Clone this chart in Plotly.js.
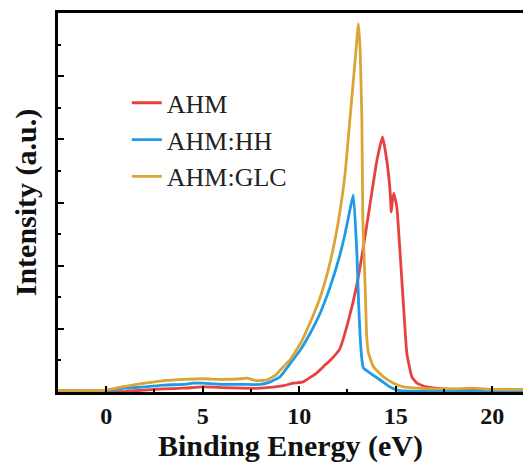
<!DOCTYPE html>
<html>
<head>
<meta charset="utf-8">
<script src="https://cdn.plot.ly/plotly-3.0.1.min.js"></script>
<style>html,body{margin:0;padding:0;background:#fff;}#chart{width:523px;height:466px;}</style>
</head>
<body>
<div id="chart"></div>
<script>
// Binding energy (eV) and intensity (a.u.)
const ahmX = [-2.5, 0, 1, 2, 3, 4, 5, 6, 7, 8, 9.2, 9.7, 10.2, 10.9, 11.35, 11.6, 12.1, 12.56, 12.99, 13.33, 13.68, 14.03, 14.32, 14.54, 14.72, 14.77, 14.82, 14.9, 15.06, 15.23, 15.4, 15.58, 15.84, 16.1, 16.6, 17.5, 19, 21.6];
const ahmY = [0.0, 0.0, 0.01, 0.03, 0.05, 0.06, 0.08, 0.07, 0.06, 0.06, 0.1, 0.14, 0.16, 0.3, 0.43, 0.5, 0.68, 1.14, 1.7, 2.3, 2.99, 3.67, 4.04, 3.67, 3.15, 2.85, 3.0, 3.15, 2.93, 2.2, 1.4, 0.61, 0.24, 0.14, 0.08, 0.05, 0.04, 0.03];

const hhX = [-2.5, 0, 0.5, 1, 2, 3, 4, 4.5, 5, 5.5, 6, 7, 8, 8.5, 9.0, 9.53, 10.05, 10.57, 11.09, 11.6, 12.04, 12.38, 12.64, 12.81, 12.99, 13.08, 13.16, 13.25, 13.33, 13.68, 14.2, 14.7, 15.23, 16, 18, 21.6];
const hhY = [0.02, 0.02, 0.04, 0.06, 0.08, 0.11, 0.12, 0.14, 0.14, 0.13, 0.12, 0.12, 0.12, 0.16, 0.24, 0.45, 0.66, 0.93, 1.25, 1.66, 2.09, 2.51, 2.9, 3.12, 2.2, 1.4, 0.88, 0.51, 0.38, 0.30, 0.19, 0.08, 0.02, 0.01, 0.01, 0.01];

const glcX = [-2.5, -1, 0, 0.5, 1, 2, 3, 4, 5, 6, 7, 7.3, 7.8, 8.3, 8.8, 9.02, 9.5, 10.05, 10.57, 11.09, 11.6, 12.04, 12.38, 12.64, 12.9, 13.07, 13.16, 13.25, 13.3, 13.42, 13.5, 13.59, 13.85, 14.37, 14.89, 15.4, 16.1, 17, 18, 19, 19.5, 20, 21.6];
const glcY = [0.02, 0.02, 0.03, 0.06, 0.09, 0.14, 0.18, 0.2, 0.21, 0.2, 0.21, 0.22, 0.18, 0.19, 0.27, 0.35, 0.5, 0.76, 1.1, 1.5, 2.05, 2.72, 3.46, 4.35, 5.25, 5.83, 5.41, 4.3, 2.72, 1.67, 0.88, 0.62, 0.40, 0.24, 0.14, 0.08, 0.06, 0.05, 0.05, 0.06, 0.05, 0.04, 0.04];

const names = ["AHM", "AHM:HH", "AHM:GLC"];
const colors = ["#E8403E", "#1F9BE6", "#D9A536"];

const lineStyle = (c) => ({color: c, width: 2.8, shape: "spline", smoothing: 0.4});
const traces = [
  {x: ahmX, y: ahmY, name: names[0], type: "scatter", mode: "lines", line: lineStyle(colors[0])},
  {x: hhX, y: hhY, name: names[1], type: "scatter", mode: "lines", line: lineStyle(colors[1])},
  {x: glcX, y: glcY, name: names[2], type: "scatter", mode: "lines", line: lineStyle(colors[2])}
];

const serif = "Liberation Serif";

const layout = {
  width: 523, height: 466,
  margin: {l: 58, r: 0, t: 13, b: 74},
  paper_bgcolor: "#fff", plot_bgcolor: "#fff",
  showlegend: true,
  legend: {
    x: 0.148, y: 0.825, xanchor: "left", yanchor: "top",
    font: {family: serif, size: 26, color: "#222"},
    bgcolor: "rgba(0,0,0,0)", tracegroupgap: 0
  },
  xaxis: {
    range: [-2.5, 21.6],
    showgrid: false, zeroline: false,
    showline: true, linecolor: "#000", linewidth: 3, mirror: true,
    ticks: "inside", ticklen: 6, tickwidth: 2, tickcolor: "#000",
    dtick: 5, tick0: 0,
    minor: {ticks: "inside", ticklen: 3, tickwidth: 2, dtick: 2.5, tick0: 0, tickcolor: "#000"},
    tickfont: {family: serif, size: 24, color: "#111", weight: "bold"},
    title: {text: "<b>Binding Energy (eV)</b>", font: {family: serif, size: 30, color: "#111"}, standoff: 0}
  },
  yaxis: {
    range: [0, 6],
    showgrid: false, zeroline: false,
    showline: true, linecolor: "#000", linewidth: 3, mirror: false,
    ticks: "inside", ticklen: 6, tickwidth: 2, tickcolor: "#000",
    dtick: 1, tick0: 0,
    minor: {ticks: "inside", ticklen: 3, tickwidth: 2, dtick: 0.5, tick0: 0, tickcolor: "#000"},
    showticklabels: false,
    title: {text: "<b>Intensity (a.u.)</b>", font: {family: serif, size: 30, color: "#111"}, standoff: 10}
  }
};

Plotly.newPlot("chart", traces, layout, {displayModeBar: false, staticPlot: true});
</script>
</body>
</html>
